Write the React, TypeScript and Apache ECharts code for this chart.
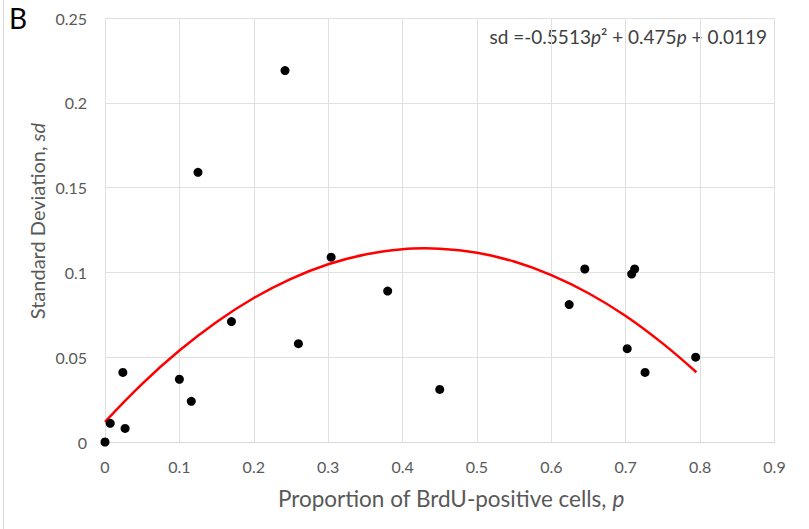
import React, { useEffect, useRef } from "react";
import * as echarts from "echarts";

const pValues = [0, 0.007, 0.027, 0.024, 0.1, 0.116, 0.125, 0.17, 0.242, 0.26, 0.304, 0.38, 0.45, 0.624, 0.645, 0.702, 0.708, 0.712, 0.726, 0.794];
const sdValues = [0, 0.011, 0.008, 0.041, 0.037, 0.024, 0.159, 0.071, 0.219, 0.058, 0.109, 0.089, 0.031, 0.081, 0.102, 0.055, 0.099, 0.102, 0.041, 0.05];

// trendline points
const trendP = [0, 0.05, 0.1, 0.15, 0.2, 0.25, 0.3, 0.35, 0.4, 0.43, 0.45, 0.5, 0.55, 0.6, 0.65, 0.7, 0.75, 0.795];
const trendSd = [0.0119, 0.0343, 0.0539, 0.0708, 0.0849, 0.0962, 0.1048, 0.1106, 0.1137, 0.1142, 0.114, 0.1116, 0.1064, 0.0984, 0.0877, 0.0743, 0.058, 0.0411];

const FONT = "Lato";
const GRAY = "#595959";

export default function App() {
  const ref = useRef<HTMLDivElement>(null);
  useEffect(() => {
    const chart = echarts.init(ref.current!, undefined, { renderer: "svg" });
    chart.setOption({
      animation: false,
      backgroundColor: "#ffffff",
      grid: { left: 105, right: 34.5, top: 18, bottom: 87, containLabel: false },
      xAxis: {
        type: "value",
        min: 0,
        max: 0.9,
        interval: 0.1,
        axisLine: { show: true, lineStyle: { color: "#d9d9d9", width: 1 } },
        axisTick: { show: false },
        splitLine: { show: true, lineStyle: { color: "#e0e0e0", width: 1 } },
        axisLabel: { color: GRAY, fontFamily: FONT, fontSize: 16, margin: 16 },
      },
      yAxis: {
        type: "value",
        min: 0,
        max: 0.25,
        interval: 0.05,
        axisLine: { show: true, lineStyle: { color: "#e0e0e0", width: 1 } },
        axisTick: { show: false },
        splitLine: { show: true, lineStyle: { color: "#e0e0e0", width: 1 } },
        axisLabel: { color: GRAY, fontFamily: FONT, fontSize: 16, margin: 18 },
      },
      series: [
        {
          type: "line",
          data: trendP.map((p, i) => [p, trendSd[i]]),
          smooth: 0.4,
          showSymbol: false,
          symbol: "none",
          lineStyle: { color: "#ff0000", width: 2.5 },
          z: 2,
        },
        {
          type: "scatter",
          data: pValues.map((p, i) => [p, sdValues[i]]),
          symbol: "circle",
          symbolSize: 9,
          itemStyle: { color: "#000000", opacity: 1 },
          z: 3,
        },
      ],
      graphic: [
        {
          type: "line",
          shape: { x1: 3.5, y1: 0, x2: 3.5, y2: 529 },
          style: { stroke: "#d9d9d9", lineWidth: 1 },
        },
        {
          type: "text",
          x: 9,
          y: 4,
          style: { text: "B", font: `28px ${FONT}`, fill: "#000000" },
        },
        {
          type: "text",
          x: 767,
          y: 36,
          style: {
            text: "{n|sd =-0.5513}{i|p}{n|² + 0.475}{i|p}{n| + 0.0119}",
            align: "right",
            verticalAlign: "middle",
            rich: {
              n: { fontFamily: FONT, fontSize: 19, fill: "#404040", color: "#404040" },
              i: { fontFamily: FONT, fontSize: 19, fontStyle: "italic", fill: "#404040", color: "#404040" },
            },
          },
        },
        {
          type: "text",
          x: 451,
          y: 498,
          style: {
            text: "{n|Proportion of BrdU-positive cells, }{i|p}",
            align: "center",
            verticalAlign: "middle",
            rich: {
              n: { fontFamily: FONT, fontSize: 22.5, fill: GRAY, color: GRAY },
              i: { fontFamily: FONT, fontSize: 22.5, fontStyle: "italic", fill: GRAY, color: GRAY },
            },
          },
        },
        {
          type: "text",
          x: 37,
          y: 221,
          rotation: Math.PI / 2,
          style: {
            text: "{n|Standard Deviation, }{i|sd}",
            align: "center",
            verticalAlign: "middle",
            rich: {
              n: { fontFamily: FONT, fontSize: 20, fill: GRAY, color: GRAY },
              i: { fontFamily: FONT, fontSize: 20, fontStyle: "italic", fill: GRAY, color: GRAY },
            },
          },
        },
      ],
    });
    return () => chart.dispose();
  }, []);
  return (
    <div
      ref={ref}
      style={{ position: "fixed", left: 0, top: 0, width: 809, height: 529 }}
    />
  );
}
